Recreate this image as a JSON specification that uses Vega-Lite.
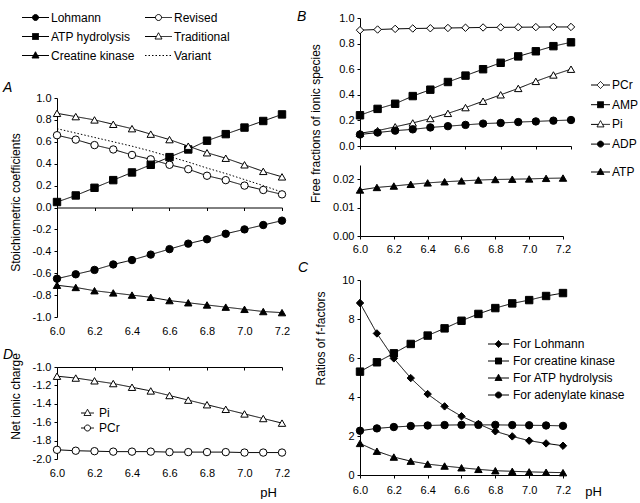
{
"$schema": "https://vega.github.io/schema/vega-lite/v6.json",
"padding": {"left": 3, "top": 9, "right": 0, "bottom": 0},
"datasets": {
"A": [
{"pH":6.0,"series":"Lohmann","v":-0.65},{"pH":6.1,"series":"Lohmann","v":-0.61},{"pH":6.2,"series":"Lohmann","v":-0.57},{"pH":6.3,"series":"Lohmann","v":-0.52},{"pH":6.4,"series":"Lohmann","v":-0.48},{"pH":6.5,"series":"Lohmann","v":-0.43},{"pH":6.6,"series":"Lohmann","v":-0.38},{"pH":6.7,"series":"Lohmann","v":-0.33},{"pH":6.8,"series":"Lohmann","v":-0.29},{"pH":6.9,"series":"Lohmann","v":-0.24},{"pH":7.0,"series":"Lohmann","v":-0.20},{"pH":7.1,"series":"Lohmann","v":-0.16},{"pH":7.2,"series":"Lohmann","v":-0.12},
{"pH":6.0,"series":"Revised","v":0.66},{"pH":6.1,"series":"Revised","v":0.62},{"pH":6.2,"series":"Revised","v":0.57},{"pH":6.3,"series":"Revised","v":0.53},{"pH":6.4,"series":"Revised","v":0.48},{"pH":6.5,"series":"Revised","v":0.44},{"pH":6.6,"series":"Revised","v":0.39},{"pH":6.7,"series":"Revised","v":0.35},{"pH":6.8,"series":"Revised","v":0.29},{"pH":6.9,"series":"Revised","v":0.25},{"pH":7.0,"series":"Revised","v":0.20},{"pH":7.1,"series":"Revised","v":0.16},{"pH":7.2,"series":"Revised","v":0.12},
{"pH":6.0,"series":"ATP hydrolysis","v":0.05},{"pH":6.1,"series":"ATP hydrolysis","v":0.11},{"pH":6.2,"series":"ATP hydrolysis","v":0.18},{"pH":6.3,"series":"ATP hydrolysis","v":0.25},{"pH":6.4,"series":"ATP hydrolysis","v":0.32},{"pH":6.5,"series":"ATP hydrolysis","v":0.39},{"pH":6.6,"series":"ATP hydrolysis","v":0.46},{"pH":6.7,"series":"ATP hydrolysis","v":0.53},{"pH":6.8,"series":"ATP hydrolysis","v":0.61},{"pH":6.9,"series":"ATP hydrolysis","v":0.67},{"pH":7.0,"series":"ATP hydrolysis","v":0.73},{"pH":7.1,"series":"ATP hydrolysis","v":0.79},{"pH":7.2,"series":"ATP hydrolysis","v":0.85},
{"pH":6.0,"series":"Traditional","v":0.86},{"pH":6.1,"series":"Traditional","v":0.83},{"pH":6.2,"series":"Traditional","v":0.80},{"pH":6.3,"series":"Traditional","v":0.76},{"pH":6.4,"series":"Traditional","v":0.72},{"pH":6.5,"series":"Traditional","v":0.67},{"pH":6.6,"series":"Traditional","v":0.62},{"pH":6.7,"series":"Traditional","v":0.56},{"pH":6.8,"series":"Traditional","v":0.50},{"pH":6.9,"series":"Traditional","v":0.45},{"pH":7.0,"series":"Traditional","v":0.39},{"pH":7.1,"series":"Traditional","v":0.33},{"pH":7.2,"series":"Traditional","v":0.28},
{"pH":6.0,"series":"Creatine kinase","v":-0.71},{"pH":6.1,"series":"Creatine kinase","v":-0.73},{"pH":6.2,"series":"Creatine kinase","v":-0.76},{"pH":6.3,"series":"Creatine kinase","v":-0.78},{"pH":6.4,"series":"Creatine kinase","v":-0.80},{"pH":6.5,"series":"Creatine kinase","v":-0.82},{"pH":6.6,"series":"Creatine kinase","v":-0.85},{"pH":6.7,"series":"Creatine kinase","v":-0.87},{"pH":6.8,"series":"Creatine kinase","v":-0.89},{"pH":6.9,"series":"Creatine kinase","v":-0.91},{"pH":7.0,"series":"Creatine kinase","v":-0.93},{"pH":7.1,"series":"Creatine kinase","v":-0.95},{"pH":7.2,"series":"Creatine kinase","v":-0.96},
{"pH":6.0,"series":"Variant","v":0.72},{"pH":6.1,"series":"Variant","v":0.68},{"pH":6.2,"series":"Variant","v":0.64},{"pH":6.3,"series":"Variant","v":0.60},{"pH":6.4,"series":"Variant","v":0.56},{"pH":6.5,"series":"Variant","v":0.515},{"pH":6.6,"series":"Variant","v":0.465},{"pH":6.7,"series":"Variant","v":0.415},{"pH":6.8,"series":"Variant","v":0.36},{"pH":6.9,"series":"Variant","v":0.31},{"pH":7.0,"series":"Variant","v":0.255},{"pH":7.1,"series":"Variant","v":0.20},{"pH":7.2,"series":"Variant","v":0.14}
],
"B1": [
{"pH":6.0,"series":"PCr","v":0.905},{"pH":6.1,"series":"PCr","v":0.91},{"pH":6.2,"series":"PCr","v":0.915},{"pH":6.3,"series":"PCr","v":0.918},{"pH":6.4,"series":"PCr","v":0.92},{"pH":6.5,"series":"PCr","v":0.922},{"pH":6.6,"series":"PCr","v":0.924},{"pH":6.7,"series":"PCr","v":0.926},{"pH":6.8,"series":"PCr","v":0.927},{"pH":6.9,"series":"PCr","v":0.928},{"pH":7.0,"series":"PCr","v":0.929},{"pH":7.1,"series":"PCr","v":0.93},{"pH":7.2,"series":"PCr","v":0.93},
{"pH":6.0,"series":"AMP","v":0.24},{"pH":6.1,"series":"AMP","v":0.29},{"pH":6.2,"series":"AMP","v":0.33},{"pH":6.3,"series":"AMP","v":0.39},{"pH":6.4,"series":"AMP","v":0.44},{"pH":6.5,"series":"AMP","v":0.50},{"pH":6.6,"series":"AMP","v":0.55},{"pH":6.7,"series":"AMP","v":0.60},{"pH":6.8,"series":"AMP","v":0.65},{"pH":6.9,"series":"AMP","v":0.70},{"pH":7.0,"series":"AMP","v":0.74},{"pH":7.1,"series":"AMP","v":0.78},{"pH":7.2,"series":"AMP","v":0.81},
{"pH":6.0,"series":"Pi","v":0.10},{"pH":6.1,"series":"Pi","v":0.12},{"pH":6.2,"series":"Pi","v":0.15},{"pH":6.3,"series":"Pi","v":0.18},{"pH":6.4,"series":"Pi","v":0.215},{"pH":6.5,"series":"Pi","v":0.255},{"pH":6.6,"series":"Pi","v":0.30},{"pH":6.7,"series":"Pi","v":0.35},{"pH":6.8,"series":"Pi","v":0.40},{"pH":6.9,"series":"Pi","v":0.45},{"pH":7.0,"series":"Pi","v":0.505},{"pH":7.1,"series":"Pi","v":0.555},{"pH":7.2,"series":"Pi","v":0.60},
{"pH":6.0,"series":"ADP","v":0.09},{"pH":6.1,"series":"ADP","v":0.105},{"pH":6.2,"series":"ADP","v":0.12},{"pH":6.3,"series":"ADP","v":0.13},{"pH":6.4,"series":"ADP","v":0.145},{"pH":6.5,"series":"ADP","v":0.155},{"pH":6.6,"series":"ADP","v":0.165},{"pH":6.7,"series":"ADP","v":0.175},{"pH":6.8,"series":"ADP","v":0.18},{"pH":6.9,"series":"ADP","v":0.187},{"pH":7.0,"series":"ADP","v":0.192},{"pH":7.1,"series":"ADP","v":0.198},{"pH":7.2,"series":"ADP","v":0.203}
],
"B2": [
{"pH":6.0,"series":"ATP","v":0.0162},{"pH":6.1,"series":"ATP","v":0.0171},{"pH":6.2,"series":"ATP","v":0.0176},{"pH":6.3,"series":"ATP","v":0.0182},{"pH":6.4,"series":"ATP","v":0.0187},{"pH":6.5,"series":"ATP","v":0.0191},{"pH":6.6,"series":"ATP","v":0.0194},{"pH":6.7,"series":"ATP","v":0.0197},{"pH":6.8,"series":"ATP","v":0.0199},{"pH":6.9,"series":"ATP","v":0.02},{"pH":7.0,"series":"ATP","v":0.0201},{"pH":7.1,"series":"ATP","v":0.0203},{"pH":7.2,"series":"ATP","v":0.0204}
],
"C": [
{"pH":6.0,"series":"For Lohmann","v":8.82},{"pH":6.1,"series":"For Lohmann","v":7.26},{"pH":6.2,"series":"For Lohmann","v":5.98},{"pH":6.3,"series":"For Lohmann","v":4.97},{"pH":6.4,"series":"For Lohmann","v":4.15},{"pH":6.5,"series":"For Lohmann","v":3.52},{"pH":6.6,"series":"For Lohmann","v":3.01},{"pH":6.7,"series":"For Lohmann","v":2.62},{"pH":6.8,"series":"For Lohmann","v":2.24},{"pH":6.9,"series":"For Lohmann","v":1.98},{"pH":7.0,"series":"For Lohmann","v":1.76},{"pH":7.1,"series":"For Lohmann","v":1.62},{"pH":7.2,"series":"For Lohmann","v":1.50},
{"pH":6.0,"series":"For creatine kinase","v":5.30},{"pH":6.1,"series":"For creatine kinase","v":5.78},{"pH":6.2,"series":"For creatine kinase","v":6.24},{"pH":6.3,"series":"For creatine kinase","v":6.72},{"pH":6.4,"series":"For creatine kinase","v":7.15},{"pH":6.5,"series":"For creatine kinase","v":7.52},{"pH":6.6,"series":"For creatine kinase","v":7.91},{"pH":6.7,"series":"For creatine kinase","v":8.26},{"pH":6.8,"series":"For creatine kinase","v":8.56},{"pH":6.9,"series":"For creatine kinase","v":8.80},{"pH":7.0,"series":"For creatine kinase","v":8.97},{"pH":7.1,"series":"For creatine kinase","v":9.18},{"pH":7.2,"series":"For creatine kinase","v":9.33},
{"pH":6.0,"series":"For ATP hydrolysis","v":1.62},{"pH":6.1,"series":"For ATP hydrolysis","v":1.22},{"pH":6.2,"series":"For ATP hydrolysis","v":0.92},{"pH":6.3,"series":"For ATP hydrolysis","v":0.71},{"pH":6.4,"series":"For ATP hydrolysis","v":0.56},{"pH":6.5,"series":"For ATP hydrolysis","v":0.46},{"pH":6.6,"series":"For ATP hydrolysis","v":0.37},{"pH":6.7,"series":"For ATP hydrolysis","v":0.29},{"pH":6.8,"series":"For ATP hydrolysis","v":0.22},{"pH":6.9,"series":"For ATP hydrolysis","v":0.19},{"pH":7.0,"series":"For ATP hydrolysis","v":0.16},{"pH":7.1,"series":"For ATP hydrolysis","v":0.14},{"pH":7.2,"series":"For ATP hydrolysis","v":0.12},
{"pH":6.0,"series":"For adenylate kinase","v":2.27},{"pH":6.1,"series":"For adenylate kinase","v":2.39},{"pH":6.2,"series":"For adenylate kinase","v":2.46},{"pH":6.3,"series":"For adenylate kinase","v":2.51},{"pH":6.4,"series":"For adenylate kinase","v":2.54},{"pH":6.5,"series":"For adenylate kinase","v":2.56},{"pH":6.6,"series":"For adenylate kinase","v":2.57},{"pH":6.7,"series":"For adenylate kinase","v":2.57},{"pH":6.8,"series":"For adenylate kinase","v":2.57},{"pH":6.9,"series":"For adenylate kinase","v":2.56},{"pH":7.0,"series":"For adenylate kinase","v":2.55},{"pH":7.1,"series":"For adenylate kinase","v":2.54},{"pH":7.2,"series":"For adenylate kinase","v":2.52}
],
"D": [
{"pH":6.0,"series":"Pi","v":-1.10},{"pH":6.1,"series":"Pi","v":-1.12},{"pH":6.2,"series":"Pi","v":-1.15},{"pH":6.3,"series":"Pi","v":-1.18},{"pH":6.4,"series":"Pi","v":-1.22},{"pH":6.5,"series":"Pi","v":-1.26},{"pH":6.6,"series":"Pi","v":-1.31},{"pH":6.7,"series":"Pi","v":-1.36},{"pH":6.8,"series":"Pi","v":-1.41},{"pH":6.9,"series":"Pi","v":-1.46},{"pH":7.0,"series":"Pi","v":-1.51},{"pH":7.1,"series":"Pi","v":-1.56},{"pH":7.2,"series":"Pi","v":-1.61},
{"pH":6.0,"series":"PCr","v":-1.90},{"pH":6.1,"series":"PCr","v":-1.91},{"pH":6.2,"series":"PCr","v":-1.915},{"pH":6.3,"series":"PCr","v":-1.92},{"pH":6.4,"series":"PCr","v":-1.92},{"pH":6.5,"series":"PCr","v":-1.92},{"pH":6.6,"series":"PCr","v":-1.925},{"pH":6.7,"series":"PCr","v":-1.925},{"pH":6.8,"series":"PCr","v":-1.925},{"pH":6.9,"series":"PCr","v":-1.925},{"pH":7.0,"series":"PCr","v":-1.93},{"pH":7.1,"series":"PCr","v":-1.93},{"pH":7.2,"series":"PCr","v":-1.93}
]
},
"hconcat": [
{"vconcat": [
{
"width": 225, "height": 299,
"title": {"text": "A", "dx": -54, "dy": 87},
"data": {"name": "A"},
"encoding": {"y": {"field": "v", "type": "quantitative", "scale": {"domain": [-1, 1], "nice": false, "range": [299, 80]}, "axis": {"values": [-1,-0.8,-0.6,-0.4,-0.2,0,0.2,0.4,0.6,0.8,1], "format": ".1f", "title": "Stoichiometric coefficients", "titleX": -42, "titleY": 184, "titleBaseline": "middle"}}},
"layer": [
{"mark": {"type": "line", "color": "black", "strokeWidth": 1},
 "encoding": {
  "x": {"field": "pH", "type": "quantitative", "scale": {"domain": [6, 7.2], "nice": false, "zero": false}, "axis": {"orient": "bottom", "values": [6,6.2,6.4,6.6,6.8,7,7.2], "format": ".1f", "domain": false, "ticks": false, "tickSize": 0, "labelPadding": 8, "title": null}},
  "strokeDash": {"field": "series", "type": "nominal",
   "scale": {"domain": ["Lohmann","ATP hydrolysis","Creatine kinase","Revised","Traditional","Variant"], "range": [[1,0],[1,0],[1,0],[1,0],[1,0],[1.5,2]]},
   "legend": {"orient": "none", "legendX": -36, "legendY": -6.5, "columns": 2, "columnPadding": 8, "rowPadding": 7, "labelOffset": 18, "symbolSize": 100, "title": null,
    "encode": {"symbols": {"update": {
     "shape": {"signal": "{'Lohmann':'M-1,0H4.4M2.3,0A0.6,0.6,0,1,1,1.1,0A0.6,0.6,0,1,1,2.3,0Z','Revised':'M-1,0H1.1M2.3,0H4.4M2.3,0A0.6,0.6,0,1,1,1.1,0A0.6,0.6,0,1,1,2.3,0Z','ATP hydrolysis':'M-1,0H4.4M1.1,-0.6H2.3V0.6H1.1Z','Traditional':'M-1,0H1.28M2.12,0H4.4M1.7,-0.75L2.4,0.5H1.0Z','Creatine kinase':'M-1,0H4.4M1.7,-0.75L2.4,0.5H1.0Z','Variant':'M-1,0H4.4'}[datum.value]"},
     "fill": {"signal": "indexof(['Revised','Traditional','Variant'], datum.value) >= 0 ? 'white' : 'black'"},
     "stroke": {"value": "black"}, "strokeWidth": {"value": 1}, "opacity": {"value": 1},
     "strokeDash": {"signal": "datum.value === 'Variant' ? [1.5,2] : [1,0]"}}}}}}
 }},
{"transform": [{"filter": "datum.series !== 'Variant'"}],
 "mark": {"type": "point", "filled": true, "size": 55, "stroke": "black", "strokeWidth": 1, "opacity": 1},
 "encoding": {
  "x": {"field": "pH", "type": "quantitative", "scale": {"domain": [6, 7.2], "nice": false, "zero": false}, "axis": {"orient": "bottom", "values": [6,6.2,6.4,6.6,6.8,7,7.2], "labels": false, "domain": true, "ticks": true, "tickSize": 3, "offset": -109.5, "title": null}},
  "shape": {"field": "series", "type": "nominal", "scale": {"domain": ["Lohmann","Revised","ATP hydrolysis","Traditional","Creatine kinase"], "range": ["circle","circle","square","triangle-up","triangle-up"]}, "legend": null},
  "fill": {"field": "series", "type": "nominal", "scale": {"domain": ["Lohmann","Revised","ATP hydrolysis","Traditional","Creatine kinase"], "range": ["black","white","black","white","black"]}, "legend": null}
 }}
],
"resolve": {"axis": {"x": "independent"}}
},
{
"width": 225, "height": 92,
"title": {"text": "D", "dx": -54, "dy": 13},
"data": {"name": "D"},
"encoding": {"y": {"field": "v", "type": "quantitative", "scale": {"domain": [-2, -1], "nice": false, "zero": false}, "axis": {"values": [-2,-1.8,-1.6,-1.4,-1.2,-1], "format": ".1f", "title": "Net ionic charge", "titleX": -42, "titleY": 29, "titleBaseline": "middle"}}},
"layer": [
{"mark": {"type": "line", "color": "black", "strokeWidth": 1},
 "encoding": {
  "x": {"field": "pH", "type": "quantitative", "scale": {"domain": [6, 7.2], "nice": false, "zero": false}, "axis": {"orient": "bottom", "values": [6,6.2,6.4,6.6,6.8,7,7.2], "format": ".1f", "domain": false, "ticks": false, "tickSize": 0, "labelPadding": 8, "title": "pH", "titleX": 211, "titleY": 37, "titleBaseline": "alphabetic", "titleFontSize": 13, "titleAlign": "center"}},
  "strokeDash": {"field": "series", "type": "nominal",
   "scale": {"domain": ["Pi","PCr"], "range": [[1,0],[1,0]]},
   "legend": {"orient": "none", "legendX": 23, "legendY": 40, "rowPadding": 3, "labelOffset": 7, "symbolSize": 100, "title": null,
    "encode": {"symbols": {"update": {
     "shape": {"signal": "{'Pi':'M-1,0H-0.12M0.72,0H1.6M0.3,-0.75L1.0,0.5H-0.4Z','PCr':'M-1,0H-0.3M0.9,0H1.6M0.9,0A0.6,0.6,0,1,1,-0.3,0A0.6,0.6,0,1,1,0.9,0Z'}[datum.value]"},
     "fill": {"value": "white"},
     "stroke": {"value": "black"}, "strokeWidth": {"value": 1}, "opacity": {"value": 1},
     "strokeDash": {"value": [1,0]}}}}}}
 }},
{"transform": [{"filter": "datum.v != null"}],
 "mark": {"type": "point", "filled": true, "size": 55, "stroke": "black", "strokeWidth": 1, "opacity": 1},
 "encoding": {
  "x": {"field": "pH", "type": "quantitative", "scale": {"domain": [6, 7.2], "nice": false, "zero": false}, "axis": {"orient": "bottom", "values": [6,6.2,6.4,6.6,6.8,7,7.2], "labels": false, "domain": true, "ticks": true, "tickSize": 3, "offset": -92, "title": null}},
  "shape": {"field": "series", "type": "nominal", "scale": {"domain": ["Pi","PCr","-"], "range": ["triangle-up","circle","circle"]}, "legend": null},
  "fill": {"value": "white"}
 }}
],
"resolve": {"axis": {"x": "independent"}}
}
], "spacing": 50, "bounds": "flush",
"resolve": {"scale": {"shape": "independent", "fill": "independent", "strokeDash": "independent"}, "legend": {"shape": "independent", "fill": "independent", "strokeDash": "independent"}}},
{"vconcat": [
{
"width": 211, "height": 128,
"title": {"text": "B", "dx": -63, "dy": 15.5},
"data": {"name": "B1"},
"encoding": {
 "x": {"field": "pH", "type": "quantitative", "scale": {"domain": [6, 7.2], "nice": false, "zero": false}, "axis": {"orient": "bottom", "values": [6,6.2,6.4,6.6,6.8,7,7.2], "labels": false, "tickSize": 3, "title": null}},
 "y": {"field": "v", "type": "quantitative", "scale": {"domain": [0, 1], "nice": false}, "axis": {"values": [0,0.2,0.4,0.6,0.8,1], "format": ".1f", "title": "Free fractions of ionic species", "titleX": -45, "titleY": 105, "titleBaseline": "middle"}}
},
"layer": [
{"mark": {"type": "line", "color": "black", "strokeWidth": 1},
 "encoding": {
  "strokeDash": {"field": "series", "type": "nominal",
   "scale": {"domain": ["PCr","AMP","Pi","ADP"], "range": [[1,0],[1,0],[1,0],[1,0]]},
   "legend": {"orient": "none", "legendX": 230, "legendY": 61, "rowPadding": 7.7, "labelOffset": 10, "symbolSize": 100, "title": null,
    "encode": {"symbols": {"update": {
     "shape": {"signal": "{'PCr':'M-1,0H0.2M1.6,0H2.8M0.9,-0.7L1.6,0L0.9,0.7L0.2,0Z','AMP':'M-1,0H2.8M0.3,-0.6H1.5V0.6H0.3Z','Pi':'M-1,0H0.48M1.32,0H2.8M0.9,-0.75L1.6,0.5H0.2Z','ADP':'M-1,0H2.8M1.5,0A0.6,0.6,0,1,1,0.3,0A0.6,0.6,0,1,1,1.5,0Z'}[datum.value]"},
     "fill": {"signal": "indexof(['PCr','Pi'], datum.value) >= 0 ? 'white' : 'black'"},
     "stroke": {"value": "black"}, "strokeWidth": {"value": 1}, "opacity": {"value": 1},
     "strokeDash": {"value": [1,0]}}}}}}
 }},
{"transform": [{"filter": "datum.v != null"}],
 "mark": {"type": "point", "filled": true, "size": 55, "stroke": "black", "strokeWidth": 1, "opacity": 1},
 "encoding": {
  "shape": {"field": "series", "type": "nominal", "scale": {"domain": ["PCr","AMP","Pi","ADP","-"], "range": ["diamond","square","triangle-up","circle","circle"]}, "legend": null},
  "fill": {"field": "series", "type": "nominal", "scale": {"domain": ["PCr","AMP","Pi","ADP","-"], "range": ["white","black","white","black","black"]}, "legend": null}
 }}
]
},
{
"width": 203, "height": 71,
"data": {"name": "B2"},
"encoding": {
 "x": {"field": "pH", "type": "quantitative", "scale": {"domain": [6, 7.2], "nice": false, "zero": false}, "axis": {"orient": "bottom", "values": [6,6.2,6.4,6.6,6.8,7,7.2], "format": ".1f", "tickSize": 3, "labelPadding": 4, "title": null}},
 "y": {"field": "v", "type": "quantitative", "scale": {"domain": [0, 0.025], "nice": false}, "axis": {"values": [0,0.01,0.02], "format": ".2f", "title": null}}
},
"layer": [
{"mark": {"type": "line", "color": "black", "strokeWidth": 1},
 "encoding": {
  "strokeDash": {"field": "series", "type": "nominal",
   "scale": {"domain": ["ATP"], "range": [[1,0]]},
   "legend": {"orient": "none", "legendX": 230, "legendY": 1, "labelOffset": 10, "symbolSize": 100, "title": null,
    "encode": {"symbols": {"update": {
     "shape": {"value": "M-1,0H2.8M0.9,-0.75L1.6,0.5H0.2Z"},
     "fill": {"value": "black"},
     "stroke": {"value": "black"}, "strokeWidth": {"value": 1}, "opacity": {"value": 1},
     "strokeDash": {"value": [1,0]}}}}}}
 }},
{"mark": {"type": "point", "filled": true, "size": 55, "stroke": "black", "strokeWidth": 1, "opacity": 1, "shape": "triangle-up", "fill": "black"},
 "encoding": {}}
]
},
{
"width": 203, "height": 220,
"title": {"text": "C", "dx": -62, "dy": 23.5},
"data": {"name": "C"},
"encoding": {
 "x": {"field": "pH", "type": "quantitative", "scale": {"domain": [6, 7.2], "nice": false, "zero": false}, "axis": {"orient": "bottom", "values": [6,6.2,6.4,6.6,6.8,7,7.2], "format": ".1f", "tickSize": 3, "labelPadding": 6, "title": "pH", "titleX": 233, "titleY": 20, "titleBaseline": "alphabetic", "titleFontSize": 13, "titleAlign": "center"}},
 "y": {"field": "v", "type": "quantitative", "scale": {"domain": [0, 10], "nice": false, "range": [220, 25]}, "axis": {"values": [0,2,4,6,8,10], "format": "d", "title": "Ratios of f-factors", "titleX": -40, "titleY": 83, "titleBaseline": "middle"}}
},
"layer": [
{"mark": {"type": "line", "color": "black", "strokeWidth": 1},
 "encoding": {
  "strokeDash": {"field": "series", "type": "nominal",
   "scale": {"domain": ["For Lohmann","For creatine kinase","For ATP hydrolysis","For adenylate kinase"], "range": [[1,0],[1,0],[1,0],[1,0]]},
   "legend": {"orient": "none", "legendX": 127, "legendY": 83, "rowPadding": 5, "labelOffset": 14, "symbolSize": 100, "title": null,
    "encode": {"symbols": {"update": {
     "shape": {"signal": "{'For Lohmann':'M-1,0H3.2M1.1,-0.7L1.8,0L1.1,0.7L0.4,0Z','For creatine kinase':'M-1,0H3.2M0.5,-0.6H1.7V0.6H0.5Z','For ATP hydrolysis':'M-1,0H3.2M1.1,-0.75L1.8,0.5H0.4Z','For adenylate kinase':'M-1,0H3.2M1.7,0A0.6,0.6,0,1,1,0.5,0A0.6,0.6,0,1,1,1.7,0Z'}[datum.value]"},
     "fill": {"value": "black"},
     "stroke": {"value": "black"}, "strokeWidth": {"value": 1}, "opacity": {"value": 1},
     "strokeDash": {"value": [1,0]}}}}}}
 }},
{"transform": [{"filter": "datum.v != null"}],
 "mark": {"type": "point", "filled": true, "size": 55, "stroke": "black", "strokeWidth": 1, "opacity": 1, "fill": "black"},
 "encoding": {
  "shape": {"field": "series", "type": "nominal", "scale": {"domain": ["For Lohmann","For creatine kinase","For ATP hydrolysis","For adenylate kinase","-"], "range": ["diamond","square","triangle-up","circle","circle"]}, "legend": null}
 }}
]
}
], "spacing": 19, "bounds": "flush",
"resolve": {"scale": {"shape": "independent", "fill": "independent", "strokeDash": "independent"}, "legend": {"shape": "independent", "fill": "independent", "strokeDash": "independent"}}}
],
"spacing": 7,
"resolve": {"scale": {"shape": "independent", "fill": "independent", "strokeDash": "independent"}, "legend": {"shape": "independent", "fill": "independent", "strokeDash": "independent"}},
"config": {
 "font": "Liberation Sans",
 "view": {"stroke": null},
 "locale": {"number": {"decimal": ".", "thousands": ",", "grouping": [3], "currency": ["$", ""], "minus": "-"}},
 "axis": {"grid": false, "domainColor": "black", "tickColor": "black", "labelColor": "black", "labelFontSize": 11, "labelFont": "Liberation Sans", "titleFont": "Liberation Sans", "titleFontSize": 12, "titleFontWeight": "normal", "titleColor": "black", "tickSize": 3, "labelPadding": 3, "labelFlush": false, "labelOverlap": false, "labelBound": false},
 "legend": {"labelFontSize": 12, "labelFont": "Liberation Sans", "labelColor": "black", "padding": 0, "symbolStrokeColor": "black", "symbolStrokeWidth": 1},
 "title": {"font": "Liberation Sans", "fontSize": 14, "fontStyle": "italic", "fontWeight": "normal", "anchor": "start", "frame": "group", "offset": 0, "baseline": "alphabetic", "color": "black"}
}
}
